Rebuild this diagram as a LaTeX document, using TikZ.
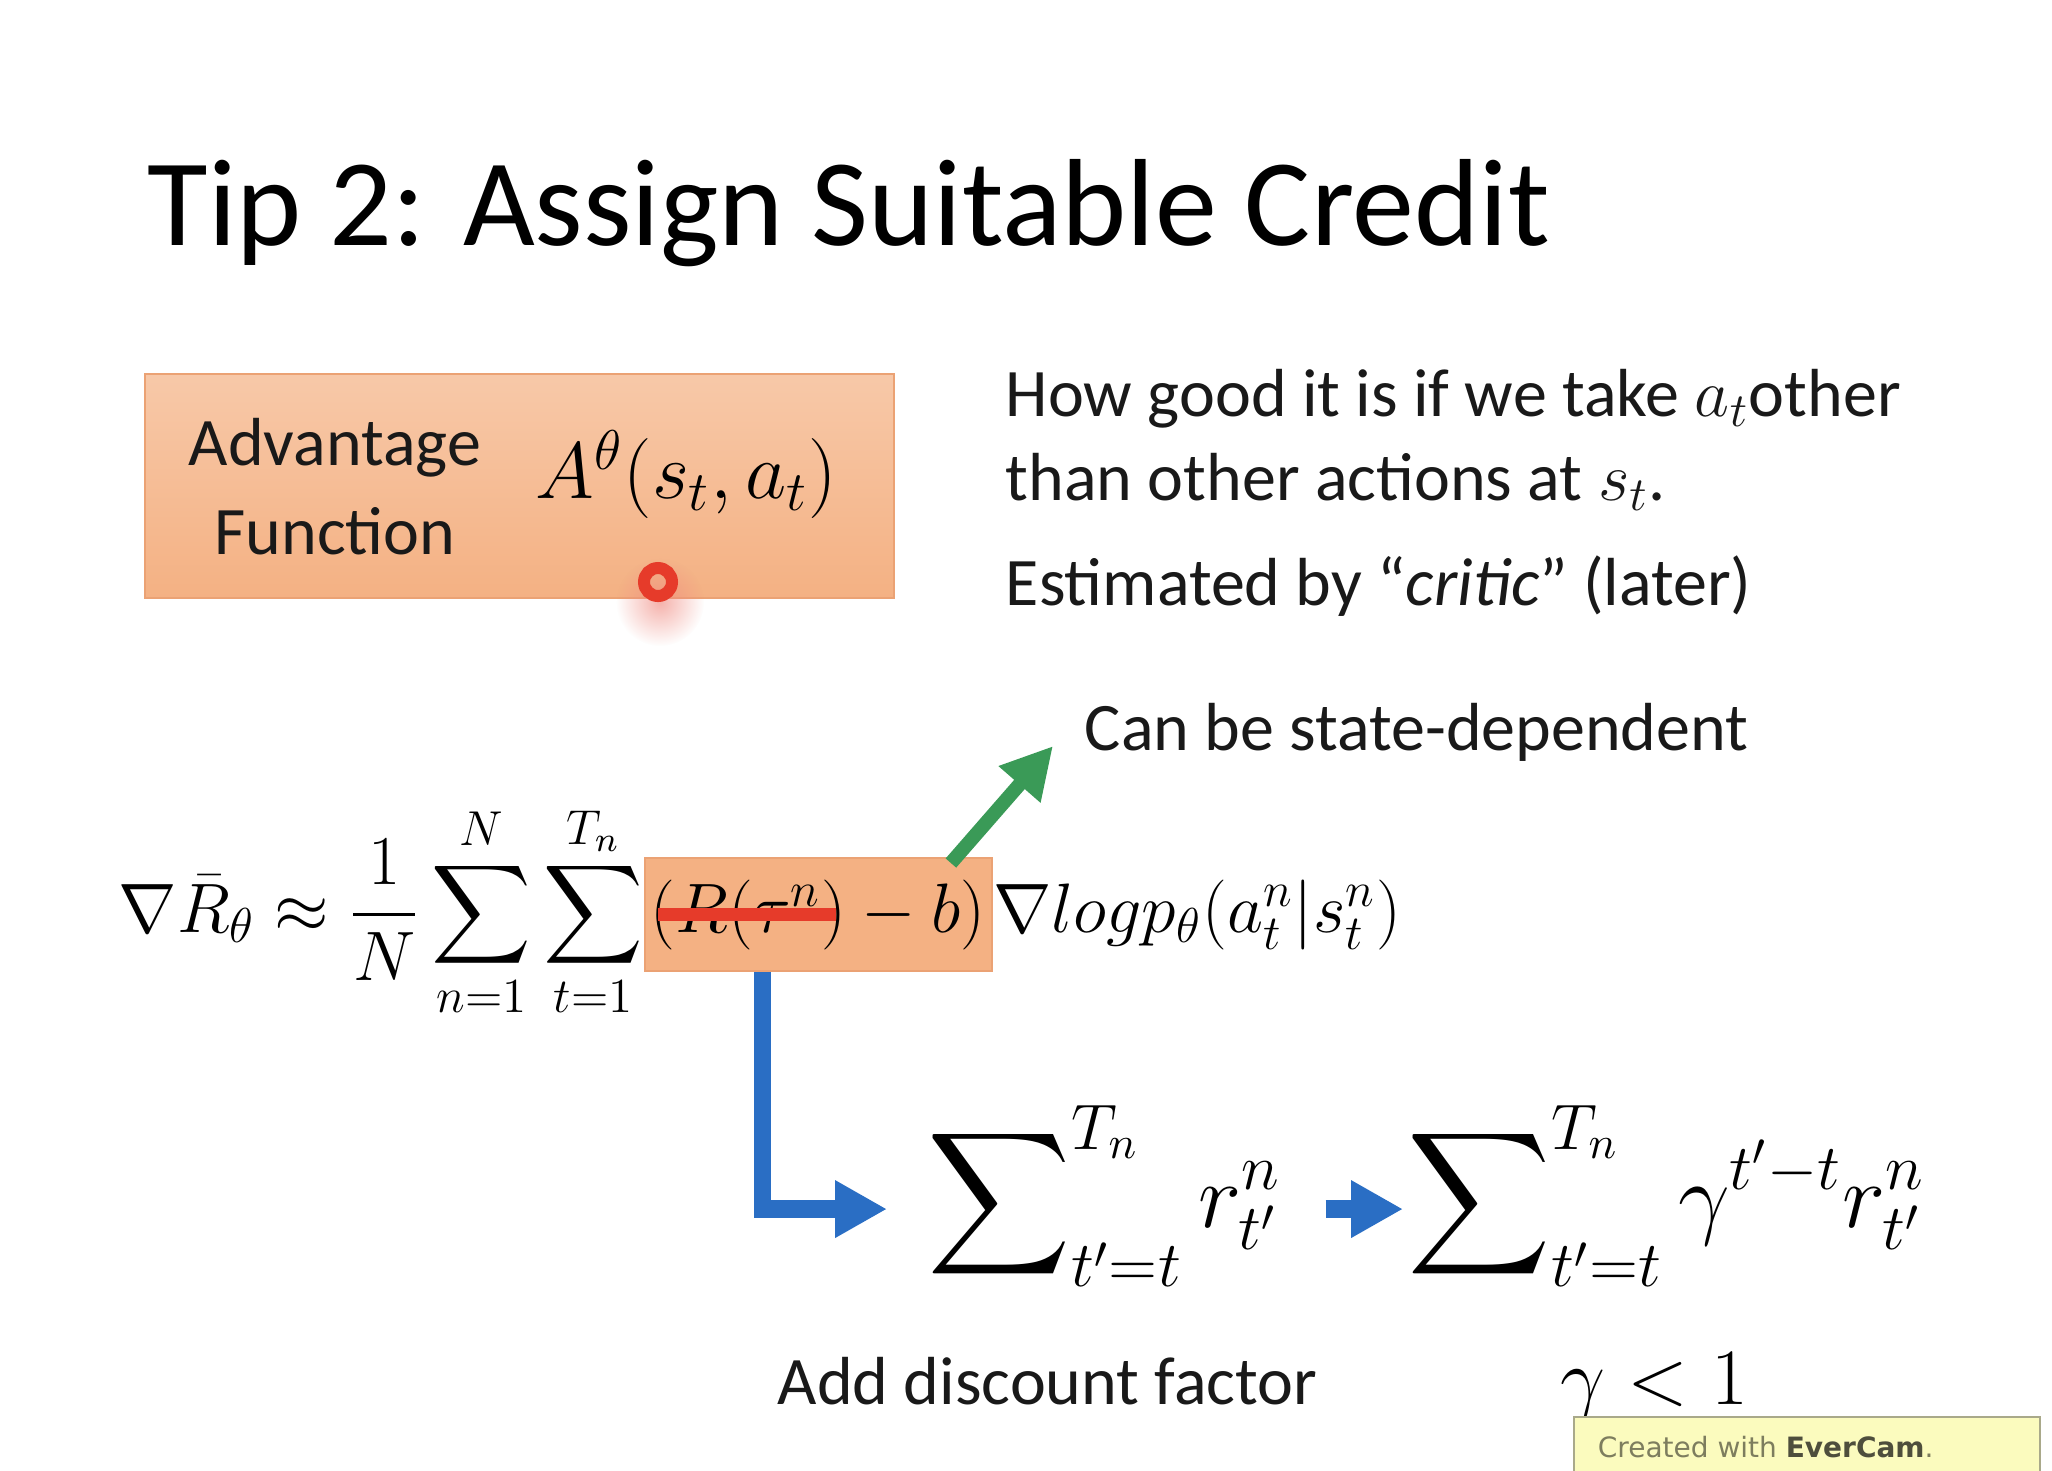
\RequirePackage{fix-cm}
\documentclass[tikz,border=0pt]{standalone}
\usepackage{amsmath}
\usepackage[no-math]{fontspec}
\setmainfont{Carlito}
\newfontfamily\stampfont{DejaVu Sans}
\usepackage{xcolor}
\definecolor{advorange}{HTML}{F4B183}
\definecolor{advedge}{HTML}{EBA274}
\definecolor{critgreen}{HTML}{3A9A57}
\definecolor{flowblue}{HTML}{2A6EC4}
\definecolor{strikered}{HTML}{E63B2A}
\definecolor{stampfill}{HTML}{FBFBBE}
\definecolor{stampedge}{HTML}{A9A98A}
\definecolor{stampink}{HTML}{7D7D5E}
\definecolor{stampdark}{HTML}{4E4E3C}
\usepackage{tikz}
\usetikzlibrary{arrows.meta,calc,positioning,fadings}
\tikzfading[name=glowfade, inner color=transparent!35, outer color=transparent!100]
\tikzset{
  every picture/.style={line join=miter},
  slidetitle/.style={font=\fontsize{31}{36}\selectfont, text=black, inner sep=0pt},
  body/.style={font=\fontsize{17}{20.75}\selectfont, text=black!90, inner sep=0pt},
  mathbig/.style={font=\fontsize{20}{24}\selectfont, inner sep=0pt},
  gradmath/.style={font=\fontsize{17.5}{21}\selectfont, inner sep=0pt},
  mathhuge/.style={font=\fontsize{23}{28}\selectfont, inner sep=0pt},
  advpanel/.style={top color=advorange!70!white, bottom color=advorange, draw=advedge, line width=0.6pt},
  advterm/.style={gradmath, fill=advorange, draw=advedge, line width=0.5pt, inner xsep=1.5pt, minimum height=28.25pt},
  strike/.style={strikered, line width=3.25pt},
  greenarrow/.style={critgreen, line width=3.5pt, -{Triangle[length=12.75pt,width=13pt]}},
  bluearrow/.style={flowblue, line width=4.4pt, -{Triangle[length=13pt,width=13.5pt]}},
  cursorring/.style={strikered, line width=3pt},
  stampbox/.style={fill=stampfill, draw=stampedge, line width=0.5pt},
  stamptext/.style={font=\stampfont\fontsize{7}{8}\selectfont, text=stampink, inner sep=0pt},
}

\begin{document}
\begin{tikzpicture}[x=0.25pt, y=-0.25pt]
\fill[white] (0,0) rectangle (2052,1470);
\useasboundingbox (0,0) rectangle (2052,1470);
% title
\node[slidetitle, anchor=base west] (tip) at (147,245) {Tip 2: Assign Suitable Credit};
% advantage function panel
\node[advpanel, anchor=north west, minimum width=187.25pt, minimum height=56pt] (advfn) at (144,373) {};
\node[body, align=center] (advname) at ($(advfn.west)!0.254!(advfn.east)$) {Advantage\\[1.5pt]Function};
\node[mathbig] (advsym) at ($(advfn.west)!0.722!(advfn.east)+(0,3pt)$) {$A^\theta(s_t,a_t)$};
% explanation on the right
\node[body, anchor=base west] (howgood) at (1005,416) {How good it is if we take $a_t$other};
\node[body, anchor=base west] (thanother) at (1005,500) {than other actions at $s_t$.};
\node[body, anchor=base west] (critic) at (1005,605) {Estimated by “\textit{critic}” (later)};
% the gradient
\node[gradmath, anchor=base west] (lhs) at (118,932)
  {$\displaystyle\nabla\bar{R}_\theta\approx\frac{1}{N}\sum_{n=1}^{N}\sum_{t=1}^{T_n}$};
\node[advterm, anchor=base west] (adv) at (lhs.base east) {$(R(\tau^n)-b)$};
\node[gradmath, anchor=base west] (rhs) at (adv.base east) {$\nabla logp_\theta(a_t^n|s_t^n)$};
\draw[strike] ($(adv.west)!0.04!(adv.east)$) -- ($(adv.west)!0.55!(adv.east)$);
% baseline note
\node[body, anchor=base west] (dep) at (1084,750) {Can be state-dependent};
\coordinate (gtip) at ([xshift=-7.75pt, yshift=1pt]dep.base west);
\draw[greenarrow] ([yshift=-1.5pt]$(adv.north west)!0.88!(adv.north east)$) -- (gtip);
% reward to go, then discounted
\node[mathhuge, anchor=base west] (sumA) at (927,1227)
  {$\displaystyle\sum\nolimits_{t'=t}^{T_n} r_{t'}^{n}$};
\node[mathhuge, anchor=base west] (sumB) at (1407,1227)
  {$\displaystyle\sum\nolimits_{t'=t}^{T_n} \gamma^{t'-t} r_{t'}^{n}$};
\draw[bluearrow] ($(adv.south west)!0.34!(adv.south east)$) |- ([xshift=-10pt, yshift=-3.25pt]sumA.west);
\draw[bluearrow] ([xshift=11pt, yshift=-3.25pt]sumA.east) -- ([xshift=-1pt, yshift=-3.25pt]sumB.west |- sumA.east);
\node[body, anchor=base west] (discount) at (777,1404) {Add discount factor};
\node[mathbig, anchor=base west] (gammalt) at (1560,1404) {$\gamma<1$};
% mouse pointer
\fill[strikered!60, path fading=glowfade] (660,602) circle (11pt);
\draw[cursorring] (658,582) circle (3.5pt);
% recorder stamp
\draw[stampbox] (1574,1417) rectangle (2040,1500);
\node[stamptext, anchor=base west] (stamp) at (1597,1457) {Created with {\color{stampdark}\bfseries EverCam}.};
\end{tikzpicture}
\end{document}
